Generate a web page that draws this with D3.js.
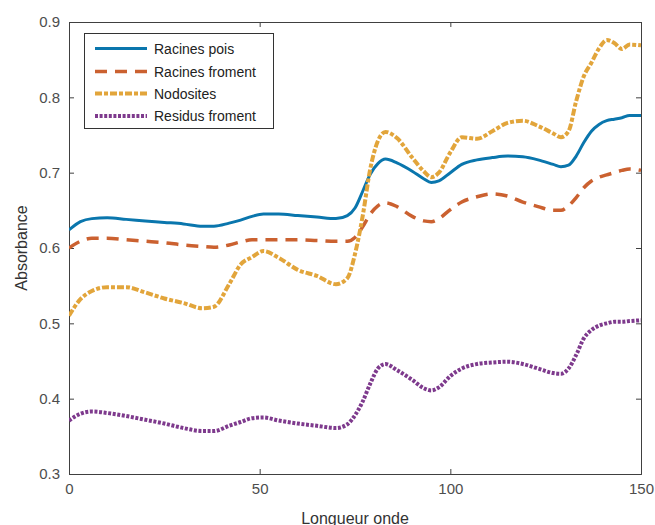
<!DOCTYPE html>
<html>
<head>
<meta charset="utf-8">
<script src="https://cdn.jsdelivr.net/npm/d3@7"></script>
<style>
  body { margin: 0; background: #fff; }
  svg text { font-family: "Liberation Sans", Arial, sans-serif; }
</style>
</head>
<body>
<div id="chart"></div>
<script>
// x positions (wavelength index) shared by every series
const xs = [0, 3, 6, 10, 15, 20, 25, 30, 35, 38, 42, 45, 48, 51, 55, 60, 65, 70, 73, 75, 77, 79, 81, 83, 86, 90, 93, 95, 97, 100, 103, 107, 111, 115, 119, 123, 127, 129, 131, 133, 135, 137, 139, 141, 143, 145, 147, 150];

const racinesPois = [0.624, 0.635, 0.639, 0.640, 0.638, 0.636, 0.634, 0.632, 0.629, 0.629, 0.633, 0.637, 0.642, 0.645, 0.645, 0.643, 0.641, 0.639, 0.643, 0.653, 0.675, 0.698, 0.712, 0.718, 0.713, 0.702, 0.692, 0.687, 0.689, 0.700, 0.711, 0.717, 0.720, 0.722, 0.721, 0.717, 0.711, 0.708, 0.710, 0.722, 0.740, 0.755, 0.764, 0.769, 0.771, 0.773, 0.776, 0.776];
const racinesFroment = [0.600, 0.609, 0.613, 0.613, 0.611, 0.609, 0.607, 0.604, 0.602, 0.601, 0.604, 0.608, 0.611, 0.611, 0.611, 0.611, 0.610, 0.609, 0.609, 0.614, 0.628, 0.645, 0.656, 0.660, 0.655, 0.642, 0.636, 0.635, 0.639, 0.651, 0.661, 0.668, 0.672, 0.669, 0.661, 0.655, 0.650, 0.650, 0.656, 0.667, 0.680, 0.689, 0.694, 0.697, 0.700, 0.703, 0.705, 0.703];
const nodosites = [0.510, 0.532, 0.543, 0.548, 0.548, 0.541, 0.533, 0.527, 0.520, 0.522, 0.552, 0.578, 0.588, 0.596, 0.587, 0.571, 0.563, 0.552, 0.560, 0.592, 0.642, 0.705, 0.742, 0.754, 0.746, 0.720, 0.702, 0.694, 0.700, 0.727, 0.747, 0.745, 0.755, 0.766, 0.769, 0.762, 0.752, 0.747, 0.755, 0.795, 0.828, 0.846, 0.865, 0.876, 0.872, 0.864, 0.870, 0.869];
const residusFroment = [0.371, 0.380, 0.383, 0.381, 0.377, 0.372, 0.367, 0.361, 0.357, 0.357, 0.364, 0.369, 0.374, 0.375, 0.371, 0.367, 0.364, 0.361, 0.366, 0.378, 0.396, 0.420, 0.440, 0.446, 0.438, 0.425, 0.414, 0.411, 0.415, 0.430, 0.440, 0.446, 0.448, 0.449, 0.446, 0.440, 0.434, 0.433, 0.440, 0.458, 0.480, 0.491, 0.497, 0.500, 0.502, 0.502, 0.503, 0.504];

const seriesNames = ["Racines pois", "Racines froment", "Nodosites", "Residus froment"];
const xTicks = [0, 50, 100, 150];
const yTicks = [0.3, 0.4, 0.5, 0.6, 0.7, 0.8, 0.9];

const W = 655, H = 525;
const pLeft = 69, pRight = 641, pTop = 22, pBottom = 474;

const svg = d3.select("#chart").append("svg")
  .attr("width", W)
  .attr("height", H);

const x = d3.scaleLinear().domain([0, 150]).range([pLeft, pRight]);
const y = d3.scaleLinear().domain([0.3, 0.9]).range([pBottom, pTop]);

const styles = [
  { color: "#0a76ad", width: 3, dash: null },
  { color: "#cb6130", width: 3.5, dash: "12,8" },
  { color: "#e2a53b", width: 4, dash: "7,2,4,2" },
  { color: "#7e3a8d", width: 4, dash: "3,1.6" }
];
const allSeries = [racinesPois, racinesFroment, nodosites, residusFroment];

// axes box, MATLAB style with inward ticks on all four sides
const axisColor = "#404040";
const tickColor = "#4d4d4d";
const tl = 5;

svg.append("g")
  .attr("transform", "translate(0," + pBottom + ")")
  .call(d3.axisBottom(x).tickValues(xTicks).tickSize(-tl).tickPadding(9).tickFormat(d3.format("d")))
  .call(g => g.select(".domain").attr("stroke", axisColor))
  .call(g => g.selectAll(".tick line").attr("stroke", axisColor))
  .call(g => g.selectAll("text").attr("fill", tickColor).style("font-size", "15px"));

svg.append("g")
  .attr("transform", "translate(0," + pTop + ")")
  .call(d3.axisTop(x).tickValues(xTicks).tickSize(-tl).tickFormat(""))
  .call(g => g.select(".domain").attr("stroke", axisColor))
  .call(g => g.selectAll(".tick line").attr("stroke", axisColor));

svg.append("g")
  .attr("transform", "translate(" + pLeft + ",0)")
  .call(d3.axisLeft(y).tickValues(yTicks).tickSize(-tl).tickPadding(9).tickFormat(d3.format(".1f")))
  .call(g => g.select(".domain").attr("stroke", axisColor))
  .call(g => g.selectAll(".tick line").attr("stroke", axisColor))
  .call(g => g.selectAll("text").attr("fill", tickColor).style("font-size", "15px"));

svg.append("g")
  .attr("transform", "translate(" + pRight + ",0)")
  .call(d3.axisRight(y).tickValues(yTicks).tickSize(-tl).tickFormat(""))
  .call(g => g.select(".domain").attr("stroke", axisColor))
  .call(g => g.selectAll(".tick line").attr("stroke", axisColor));

// axis titles
svg.append("text")
  .attr("x", (pLeft + pRight) / 2)
  .attr("y", 524)
  .attr("text-anchor", "middle")
  .attr("fill", "#333")
  .style("font-size", "16px")
  .text("Longueur onde");

svg.append("text")
  .attr("transform", "translate(27," + ((pTop + pBottom) / 2) + ") rotate(-90)")
  .attr("text-anchor", "middle")
  .attr("fill", "#333")
  .style("font-size", "16px")
  .text("Absorbance");

// lines
const line = d3.line()
  .x((d, i) => x(xs[i]))
  .y(d => y(d))
  .curve(d3.curveMonotoneX);

svg.append("defs").append("clipPath").attr("id", "clip")
  .append("rect").attr("x", pLeft).attr("y", pTop).attr("width", pRight - pLeft).attr("height", pBottom - pTop);

const plot = svg.append("g").attr("clip-path", "url(#clip)");

allSeries.forEach((vals, i) => {
  plot.append("path")
    .datum(vals)
    .attr("fill", "none")
    .attr("stroke", styles[i].color)
    .attr("stroke-width", styles[i].width)
    .attr("stroke-dasharray", styles[i].dash)
    .attr("stroke-linejoin", "round")
    .attr("d", line);
});

// legend
const legend = svg.append("g");
legend.append("rect")
  .attr("x", 84.5).attr("y", 33.5)
  .attr("width", 189).attr("height", 95)
  .attr("fill", "#fff")
  .attr("stroke", "#333")
  .attr("stroke-width", 1);

const rowY = [48.5, 71.5, 93.5, 116];
seriesNames.forEach((name, i) => {
  legend.append("line")
    .attr("x1", 95).attr("x2", 147)
    .attr("y1", rowY[i]).attr("y2", rowY[i])
    .attr("stroke", styles[i].color)
    .attr("stroke-width", styles[i].width)
    .attr("stroke-dasharray", styles[i].dash);
  legend.append("text")
    .attr("x", 154)
    .attr("y", rowY[i] + 5)
    .attr("fill", "#222")
    .style("font-size", "14px")
    .text(name);
});
</script>
</body>
</html>
